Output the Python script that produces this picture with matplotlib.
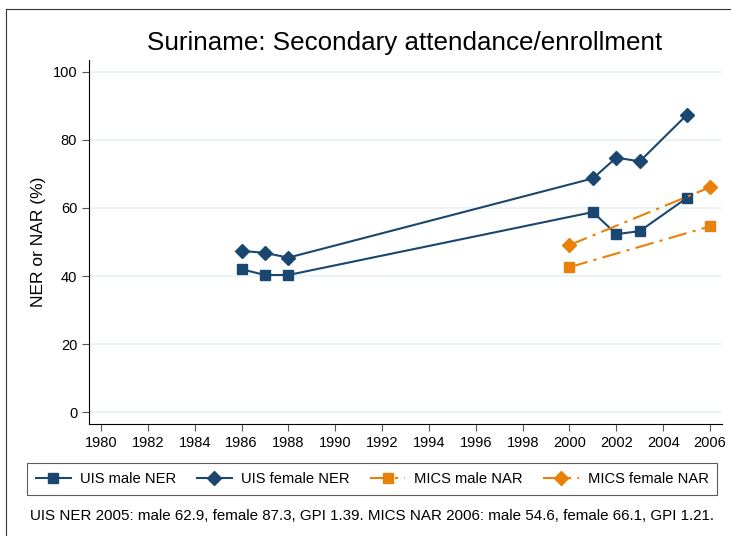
import matplotlib
matplotlib.use("Agg")
import matplotlib.pyplot as plt
from matplotlib.lines import Line2D

plt.rcParams['font.family'] = ['Liberation Sans', 'DejaVu Sans']

# data
uis_years = [1986, 1987, 1988, 2001, 2002, 2003, 2005]
uis_male = [42.0, 40.3, 40.3, 58.8, 52.3, 53.2, 62.9]
uis_female = [47.4, 46.8, 45.4, 68.7, 74.8, 73.7, 87.3]
mics_years = [2000, 2006]
mics_male = [42.6, 54.6]
mics_female = [49.1, 66.1]

x_ticks = list(range(1980, 2007, 2))
y_ticks = [0, 20, 40, 60, 80, 100]

navy = '#1a476f'
orange = '#e8800a'
grid = '#eaf2f3'
dash = (0, (9, 3, 1.5, 3))

W, H = 731, 536
fig = plt.figure(figsize=(W / 100, H / 100), dpi=100)
ax = fig.add_axes([89 / W, 1 - 424 / H, (722 - 89) / W, (424 - 60) / H])

ax.plot(uis_years, uis_male, color=navy, lw=1.5, marker='s', ms=7.5, label='UIS male NER')
ax.plot(uis_years, uis_female, color=navy, lw=1.5, marker='D', ms=7.5, label='UIS female NER')
ax.plot(mics_years, mics_male, color=orange, lw=1.5, ls=dash,
        marker='s', ms=7.5, label='MICS male NAR')
ax.plot(mics_years, mics_female, color=orange, lw=1.5, ls=dash,
        marker='D', ms=7.5, label='MICS female NAR')

ax.set_xlim(1979.49, 2006.51)
ax.set_ylim(-3.5, 103.5)
ax.set_xticks(x_ticks)
ax.set_yticks(y_ticks)
ax.tick_params(labelsize=10.5, length=5, width=0.8, color='#555555')
ax.yaxis.grid(True, color=grid, lw=1.2)
ax.set_axisbelow(True)
for s in ['top', 'right']:
    ax.spines[s].set_visible(False)
for s in ['left', 'bottom']:
    ax.spines[s].set_linewidth(0.8)

ax.set_ylabel('NER or NAR (%)', fontsize=12.5, labelpad=5)
fig.text(405 / W, 1 - 43 / H, 'Suriname: Secondary attendance/enrollment',
         fontsize=18.7, ha='center', va='center')

handles = [
    Line2D([], [], color=navy, lw=1.5, marker='s', ms=7.5),
    Line2D([], [], color=navy, lw=1.5, marker='D', ms=7.5),
    Line2D([], [], color=orange, lw=1.5, ls=dash, marker='s', ms=7.5),
    Line2D([], [], color=orange, lw=1.5, ls=dash, marker='D', ms=7.5),
]
labels = ['UIS male NER', 'UIS female NER', 'MICS male NAR', 'MICS female NAR']
leg = fig.legend(handles, labels, ncol=4, loc='center', fontsize=10.6,
                 bbox_to_anchor=(372 / W, 1 - 479 / H), frameon=True, fancybox=False,
                 edgecolor='#333333', columnspacing=1.4, handlelength=2.4,
                 handletextpad=0.6, borderpad=0.6)
leg.get_frame().set_linewidth(0.8)

fig.text(30 / W, 1 - 516 / H,
         'UIS NER 2005: male 62.9, female 87.3, GPI 1.39. MICS NAR 2006: male 54.6, female 66.1, GPI 1.21.',
         fontsize=10.9, ha='left', va='center')

# outer frame (only top and left edges fall inside the picture)
fig.add_artist(Line2D([6 / W, 6 / W], [0, 1 - 9 / H], color='#333333', lw=0.8))
fig.add_artist(Line2D([6 / W, 1], [1 - 9 / H, 1 - 9 / H], color='#333333', lw=0.8))

fig.savefig('out.png', dpi=100)
